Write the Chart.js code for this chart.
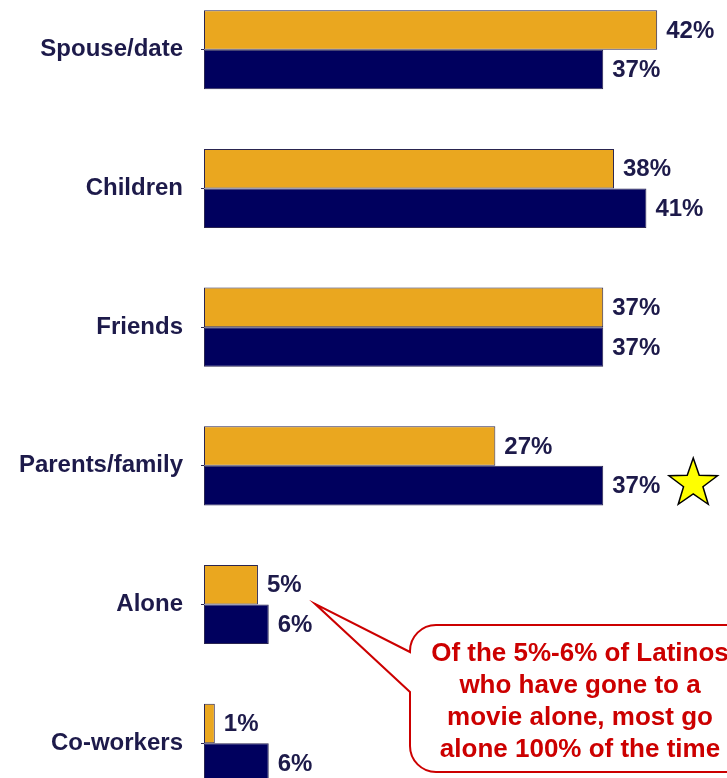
<!DOCTYPE html>
<html>
<head>
<meta charset="utf-8">
<script src="https://cdn.jsdelivr.net/npm/chart.js@4/dist/chart.umd.min.js"></script>
<style>
  html, body { margin: 0; padding: 0; background: #fff; overflow: hidden; }
  #wrap { position: relative; width: 727px; height: 778px; overflow: hidden; }
  #wrap canvas { position: absolute; left: 0; top: -52px; }
</style>
</head>
<body>
<div id="wrap"><canvas id="myChart" width="727" height="897"></canvas></div>
<script>
/************** Who Latinos go to the movies with ******/
var categories = ["Spouse/date", "Children", "Friends", "Parents/family", "Alone", "Co-workers"];
var orangeValues = [42, 38, 37, 27, 5, 1];
var navyValues = [37, 41, 37, 37, 6, 6];
var calloutLines = ["Of the 5%-6% of Latinos", "who have gone to a", "movie alone, most go", "alone 100% of the time"];

var labelColor = "#1d1a4a";
var FONT = "'Liberation Sans', Arial, sans-serif";
var SHIFT = 52; // canvas is moved up by this much

// value labels at the end of each bar
var valueLabels = {
  id: "valueLabels",
  afterDatasetsDraw: function(chart) {
    var ctx = chart.ctx;
    ctx.save();
    ctx.font = "bold 24px " + FONT;
    ctx.fillStyle = labelColor;
    ctx.textBaseline = "middle";
    chart.data.datasets.forEach(function(ds, i) {
      chart.getDatasetMeta(i).data.forEach(function(bar, j) {
        ctx.fillText(ds.data[j] + "%", bar.x + 9, bar.y + 1);
      });
    });
    ctx.restore();
  }
};

// star next to Parents/family and the red speech bubble about "Alone"
var extras = {
  id: "extras",
  afterDraw: function(chart) {
    var ctx = chart.ctx;
    var x = chart.scales.x;
    var navy = chart.getDatasetMeta(1).data;
    var orange = chart.getDatasetMeta(0).data;

    // star
    var sx = x.getPixelForValue(navyValues[3]) + 90, sy = navy[3].y - 2;
    var R = 25.5, r = 10.2;
    ctx.save();
    ctx.beginPath();
    for (var k = 0; k < 10; k++) {
      var rad = k % 2 === 0 ? R : r;
      var a = -Math.PI / 2 + k * Math.PI / 5;
      var px = sx + rad * Math.cos(a), py = sy + rad * Math.sin(a);
      if (k === 0) ctx.moveTo(px, py); else ctx.lineTo(px, py);
    }
    ctx.closePath();
    ctx.fillStyle = "#ffff00";
    ctx.fill();
    ctx.lineWidth = 1.5;
    ctx.strokeStyle = "#000";
    ctx.stroke();
    ctx.restore();

    // callout bubble
    var tipX = x.getPixelForValue(orangeValues[4]) + 57, tipY = orange[4].y + 19;
    var left = 410, top = 625 + SHIFT, right = 752, bottom = 772 + SHIFT, rr = 26;
    var b1 = 652 + SHIFT, b2 = 692 + SHIFT;
    ctx.save();
    ctx.beginPath();
    ctx.moveTo(left + rr, top);
    ctx.lineTo(right - rr, top);
    ctx.arcTo(right, top, right, top + rr, rr);
    ctx.lineTo(right, bottom - rr);
    ctx.arcTo(right, bottom, right - rr, bottom, rr);
    ctx.lineTo(left + rr, bottom);
    ctx.arcTo(left, bottom, left, bottom - rr, rr);
    ctx.lineTo(left, b2);
    ctx.lineTo(tipX, tipY);
    ctx.lineTo(left, b1);
    ctx.lineTo(left, top + rr);
    ctx.arcTo(left, top, left + rr, top, rr);
    ctx.closePath();
    ctx.fillStyle = "#fff";
    ctx.fill();
    ctx.lineWidth = 2;
    ctx.strokeStyle = "#cc0000";
    ctx.stroke();

    ctx.font = "bold 26px " + FONT;
    ctx.fillStyle = "#cc0000";
    ctx.textAlign = "center";
    ctx.textBaseline = "middle";
    calloutLines.forEach(function(line, i) {
      ctx.fillText(line, 580, 654 + SHIFT + i * 32);
    });
    ctx.restore();
  }
};

new Chart("myChart", {
  type: "bar",
  data: {
    labels: categories,
    datasets: [{
      data: orangeValues,
      backgroundColor: "#eaa71f",
      borderColor: "#2a2550",
      borderWidth: 1,
      borderSkipped: false,
      categoryPercentage: 0.57,
      barPercentage: 1
    }, {
      data: navyValues,
      backgroundColor: "#00005e",
      borderColor: "#2a2550",
      borderWidth: 1,
      borderSkipped: false,
      categoryPercentage: 0.57,
      barPercentage: 1
    }]
  },
  options: {
    indexAxis: "y",
    responsive: false,
    animation: false,
    events: [],
    layout: {padding: 0},
    plugins: {
      legend: {display: false},
      tooltip: {enabled: false}
    },
    scales: {
      x: {
        display: false,
        min: 0,
        max: 48.47
      },
      y: {
        afterFit: function(scale) { scale.width = 204; },
        border: {display: false},
        grid: {drawOnChartArea: false, offset: false, tickLength: 3, color: "#2a2550"},
        ticks: {
          color: labelColor,
          padding: 18,
          font: {family: FONT, size: 24, weight: "bold"}
        }
      }
    }
  },
  plugins: [valueLabels, extras]
});
</script>
</body>
</html>
